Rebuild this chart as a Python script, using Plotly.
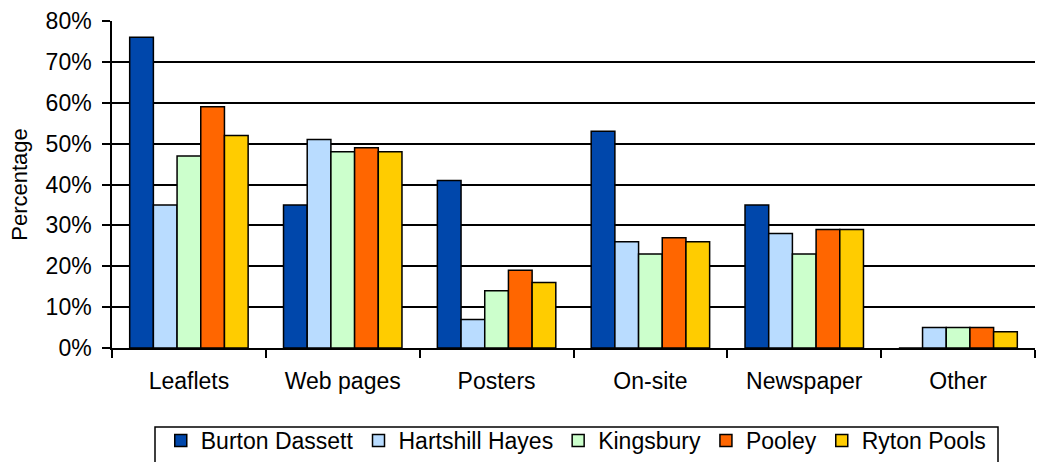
import plotly.graph_objects as go

categories = ["Leaflets", "Web pages", "Posters", "On-site", "Newspaper", "Other"]
series_names = ["Burton Dassett", "Hartshill Hayes", "Kingsbury", "Pooley", "Ryton Pools"]
burton_dassett = [76, 35, 41, 53, 35, 0]
hartshill_hayes = [35, 51, 7, 26, 28, 5]
kingsbury = [47, 48, 14, 23, 23, 5]
pooley = [59, 49, 19, 27, 29, 5]
ryton_pools = [52, 48, 16, 26, 29, 4]
y_ticks = [0, 10, 20, 30, 40, 50, 60, 70, 80]
y_tick_labels = [f"{v}%" for v in y_ticks]

colors = ["#0047AB", "#B9DCFF", "#CCFFCC", "#FF6600", "#FFCC00"]
values = [burton_dassett, hartshill_hayes, kingsbury, pooley, ryton_pools]

fig = go.Figure()
for name, vals, col in zip(series_names, values, colors):
    fig.add_trace(go.Bar(
        x=categories, y=vals, name=name,
        marker=dict(color=col, line=dict(color="black", width=1.5)),
    ))

font = "Liberation Sans, Arial, sans-serif"
fig.update_layout(
    width=1039, height=462,
    margin=dict(l=112, r=4, t=21, b=114, autoexpand=False),
    paper_bgcolor="white", plot_bgcolor="white",
    barmode="group", bargap=0.23, bargroupgap=0,
    font=dict(family=font, size=23, color="black"),
    showlegend=True,
    legend=dict(
        orientation="h", x=0.503, xanchor="center", y=-0.217, yanchor="top",
        borderwidth=0, bgcolor="rgba(0,0,0,0)",
        font=dict(family=font, size=23, color="black"),
        traceorder="normal",
    ),
    xaxis=dict(
        type="category", showline=True, linecolor="black", linewidth=1.5,
        ticks="outside", tickson="boundaries", ticklen=8, tickcolor="black", tickwidth=1.5,
        showgrid=False, tickfont=dict(size=23), ticklabelstandoff=12,
    ),
    yaxis=dict(
        range=[0, 80], tickvals=y_ticks, ticktext=y_tick_labels,
        showline=True, linecolor="black", linewidth=1.5,
        ticks="outside", ticklen=8, tickcolor="black", tickwidth=1.5,
        showgrid=True, gridcolor="black", gridwidth=1.5,
        zeroline=False, tickfont=dict(size=23), ticklabelstandoff=6,
        title=dict(text="Percentage", font=dict(size=22), standoff=12),
    ),
)
# legend frame
fig.add_shape(type="rect", xref="paper", yref="paper",
              x0=(155 - 112) / 923, x1=(998 - 112) / 923,
              y0=-(480 - 348) / 327, y1=-(427 - 348) / 327,
              line=dict(color="black", width=1.5), fillcolor="rgba(0,0,0,0)", layer="below")

fig.write_html("out.html")
